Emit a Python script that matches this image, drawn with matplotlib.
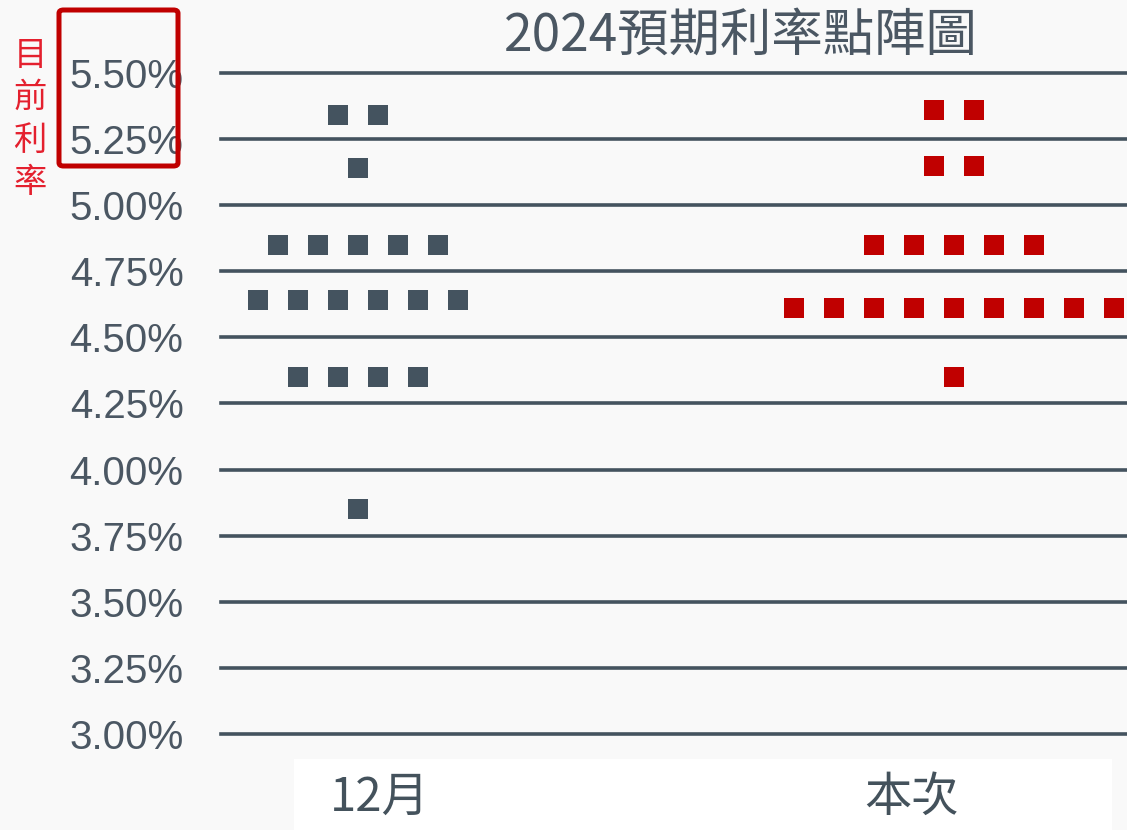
import matplotlib
matplotlib.use('Agg')
import matplotlib.pyplot as plt
from matplotlib.patches import FancyBboxPatch, Rectangle

plt.rcParams['font.family'] = ['Noto Sans CJK TC', 'DejaVu Sans']

# 資料
groups = ['12月', '本次']
dec_rates = [5.34, 5.14, 4.85, 4.64, 4.35, 3.85]   # 12月點陣
dec_counts = [2, 1, 5, 6, 4, 1]
now_rates = [5.36, 5.15, 4.85, 4.61, 4.35]         # 本次點陣
now_counts = [2, 2, 5, 9, 1]
yticks = [3.00, 3.25, 3.50, 3.75, 4.00, 4.25, 4.50, 4.75, 5.00, 5.25, 5.50]

W, H = 1127, 830
bg = '#f9f9f9'
slate = '#44535f'
red = '#c00000'

fig = plt.figure(figsize=(W / 100, H / 100), dpi=100, facecolor=bg)

# 軸: 5.50% 在 y=73px, 3.00% 在 y=734px
ppu = (734 - 73) / 2.5
y_lo, y_hi = 2.95, 5.55
ax_bottom = (H - (734 + (3.0 - y_lo) * ppu)) / H
ax_top = (H - (73 - (y_hi - 5.5) * ppu)) / H
ax = fig.add_axes([221 / W, ax_bottom, (W - 221) / W, ax_top - ax_bottom])
ax.set_facecolor('none')

step = 40  # 點距 (px)
centers = [0, 14.9]
ax.set_xlim(-(358 - 221) / step, -(358 - 221) / step + (W - 221) / step)
ax.set_ylim(y_lo, y_hi)

for c, rates, counts, col in [(centers[0], dec_rates, dec_counts, slate),
                              (centers[1], now_rates, now_counts, red)]:
    for r, n in zip(rates, counts):
        xs = [c + k - (n - 1) / 2 for k in range(n)]
        ax.plot(xs, [r] * n, linestyle='none', marker='s', ms=15,
                color=col, markeredgewidth=0, zorder=3)

for t in yticks:
    ax.axhline(t, color=slate, lw=2.6, zorder=2, clip_on=False)

ax.set_yticks(yticks)
ax.set_yticklabels(['%.2f%%' % t for t in yticks], family='Liberation Sans',
                   fontsize=29, color='#4b5763')
ax.tick_params(axis='y', length=0, pad=27)
ax.set_xticks([])
for s in ax.spines.values():
    s.set_visible(False)

# 標題
fig.text(741 / W, 1 - 36 / H, '2024預期利率點陣圖', ha='center', va='center',
         fontsize=37, color='#4b5763')

# 底部白色標籤區
fig.patches.append(Rectangle((294 / W, 0), 818 / W, 71 / H, transform=fig.transFigure,
                             facecolor='white', edgecolor='none', zorder=0))
fig.text(380 / W, 1 - 798 / H, groups[0], ha='center', va='center',
         fontsize=34, color='#44525c')
fig.text(912 / W, 1 - 798 / H, groups[1], ha='center', va='center',
         fontsize=34, color='#44525c')

# 目前利率標示
fig.patches.append(FancyBboxPatch((59 / W, 1 - 166 / H), 119 / W, 156 / H,
                                  boxstyle='round,pad=0,rounding_size=0.004',
                                  transform=fig.transFigure, fill=False,
                                  edgecolor=red, lw=3.6, zorder=5))
fig.text(30 / W, 1 - 119 / H, '目\n前\n利\n率', ha='center', va='center',
         fontsize=24, color='#e4202e', linespacing=1.28)

fig.savefig('out.png', dpi=100, facecolor=bg)
